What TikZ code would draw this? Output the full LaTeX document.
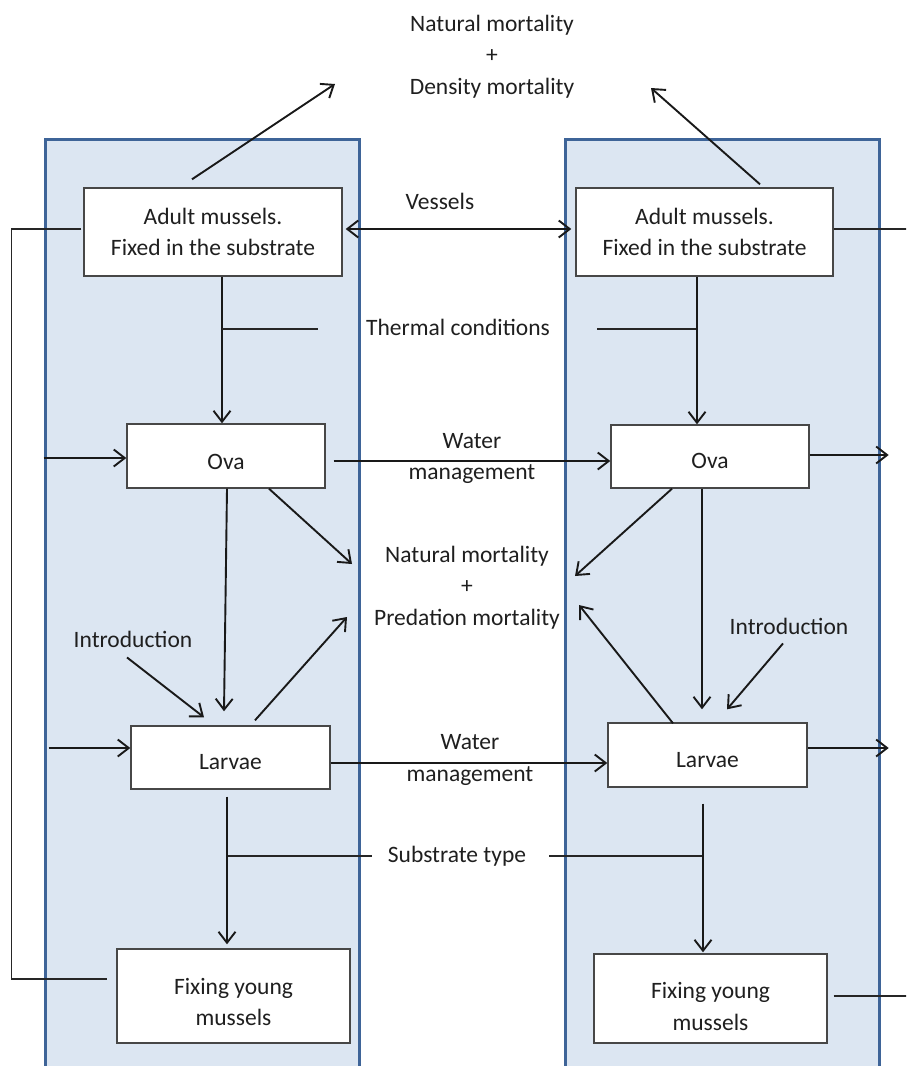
\documentclass[tikz,border=0pt]{standalone}
\usepackage{fontspec}
\setmainfont{Carlito}
\usetikzlibrary{arrows.meta}
\definecolor{panelfill}{RGB}{220,230,242}
\definecolor{panelline}{RGB}{62,100,152}
\begin{document}
\begin{tikzpicture}[x=1pt,y=-1pt,
  font=\fontsize{23.5}{31.5}\selectfont,
  panel/.style={draw=panelline,fill=panelfill,line width=3pt,inner sep=0pt,
    minimum width=314pt,minimum height=960pt},
  stagebox/.style={draw=black!72,fill=white,line width=1.4pt,align=center,
    inner sep=0pt,text=black!88},
  lbl/.style={align=center,inner sep=0pt,text=black!88},
  flow/.style={line width=1.9pt,draw=black!90,-{Straight Barb[length=11pt,width=17pt]}},
  both/.style={line width=1.9pt,draw=black!90,{Straight Barb[length=11pt,width=17pt]}-{Straight Barb[length=11pt,width=17pt]}},
  link/.style={line width=1.1pt,draw=black!85},
]
\useasboundingbox (0,0) rectangle (906,1066);
\clip (0,0) rectangle (906,1066);

% two population compartments
\node[panel] (panL) at (202,619) {};
\node[panel] (panR) at (722,619) {};

% life stages
\node[stagebox,minimum width=258pt,minimum height=88pt] (adL) at (213,232)
  {Adult mussels.\\Fixed in the substrate};
\node[stagebox,minimum width=257pt,minimum height=88pt] (adR) at (704.5,232)
  {Adult mussels.\\Fixed in the substrate};
\node[stagebox,minimum width=198pt,minimum height=64pt,text height=27pt] (ovL) at (226,456) {Ova};
\node[stagebox,minimum width=198pt,minimum height=63pt,text height=25pt] (ovR) at (710,456.5) {Ova};
\node[stagebox,minimum width=199pt,minimum height=63pt,text height=24pt] (laL) at (230.5,757.5) {Larvae};
\node[stagebox,minimum width=199pt,minimum height=64pt,text height=25pt] (laR) at (707.5,755) {Larvae};
\node[stagebox,minimum width=233pt,minimum height=94pt,text height=59.5pt] (fixL) at (233.5,996)
  {Fixing young\\mussels};
\node[stagebox,minimum width=233pt,minimum height=89pt,text height=63.5pt] (fixR) at (710.5,998.5)
  {Fixing young\\mussels};

% factors and outcomes
\node[lbl] (densM) at (492,56.5) {Natural mortality\\+\\Density mortality};
\node[lbl] (vessels) at (440,201) {Vessels};
\node[lbl] (thermal) at (458,327) {Thermal conditions};
\node[lbl] (waterA) at (472,458.5) {Water\\management};
\node[lbl] (predM) at (467,587.5) {Natural mortality\\+\\Predation mortality};
\node[lbl] (introL) at (133,639) {Introduction};
\node[lbl] (introR) at (789,626) {Introduction};
\node[lbl] (waterB) at (470,760) {Water\\management};
\node[lbl] (substrate) at (457,856) {Substrate type};

% free ends of connectors
\coordinate (dmL) at (335,84);
\coordinate (dmR) at (651,88);
\coordinate (pmA) at (352,564);
\coordinate (pmB) at (347,617);
\coordinate (pmC) at (575,576);
\coordinate (pmD) at (579,605);

% adults to density mortality, exchange by vessels
\draw[flow] ([xshift=-21pt,yshift=8pt]adL.north) -- (dmL);
\draw[flow] ([xshift=55.5pt,yshift=3pt]adR.north) -- (dmR);
\draw[both] ([xshift=3pt,yshift=3pt]adL.east) -- ([xshift=-4pt,yshift=3pt]adR.west);

% recruitment loop of the left compartment
\draw[link] ([xshift=-2pt,yshift=3pt]adL.west) -- ++(-70,0)
  |- ([xshift=-9pt,yshift=17pt]fixL.west);
% links leaving the right compartment
\draw[link] ([yshift=3pt]adR.east) -- ++(80,0);
\draw[link] ([xshift=6pt,yshift=2.5pt]fixR.east) -- ++(80,0);

% spawning under thermal conditions
\draw[flow] ([xshift=9pt]adL.south) -- ([xshift=-4pt]ovL.north);
\draw[flow] ([xshift=-7.5pt]adR.south) -- ([xshift=-13pt]ovR.north);
\draw[link] ([xshift=-48pt,yshift=-2pt]thermal.west) -- ++(-96,0);
\draw[link] ([xshift=47pt,yshift=-2pt]thermal.east) -- ++(99,0);

% ova
\draw[flow] (panL.west |- 0,458) -- ([yshift=-2pt]ovL.west);
\draw[flow] ([xshift=8pt,yshift=-5pt]ovL.east) -- ([yshift=-4.5pt]ovR.west);
\draw[flow] ([yshift=1.5pt]ovR.east) -- ++(79,0);
\draw[flow] ([xshift=1pt]ovL.south) -- ([xshift=-6.5pt,yshift=14pt]laL.north);
\draw[flow] ([xshift=-8pt]ovR.south) -- ([xshift=-5.5pt,yshift=13pt]laR.north);
\draw[flow] ([xshift=43pt]ovL.south) -- (pmA);
\draw[flow] ([xshift=-38pt]ovR.south) -- (pmC);

% larvae
\draw[flow] ([xshift=-6pt,yshift=-10pt]introL.south) -- ([xshift=-26.5pt,yshift=8pt]laL.north);
\draw[flow] ([xshift=-6pt,yshift=-9pt]introR.south) -- ([xshift=19.5pt,yshift=13pt]laR.north);
\draw[flow] ([xshift=24.5pt,yshift=5pt]laL.north) -- (pmB);
\draw[flow] ([xshift=-34.5pt,yshift=-1pt]laR.north) -- (pmD);
\draw[flow] ([xshift=5pt]panL.west |- 0,748) -- ([yshift=9.5pt]laL.west);
\draw[flow] ([yshift=-5.5pt]laL.east) -- ([yshift=-8pt]laR.west);
\draw[flow] ([yshift=7pt]laR.east) -- ++(81,0);

% settlement depending on substrate type
\draw[flow] ([xshift=-3.5pt,yshift=-7pt]laL.south) -- ([xshift=-6.5pt,yshift=4pt]fixL.north);
\draw[flow] ([xshift=-4.5pt,yshift=-16pt]laR.south) -- ([xshift=-7.5pt,yshift=1pt]fixR.north);
\draw[link] ([xshift=-16pt]substrate.west) -- ++(-144,0);
\draw[link] ([xshift=23pt]substrate.east) -- ++(153,0);
\end{tikzpicture}
\end{document}
